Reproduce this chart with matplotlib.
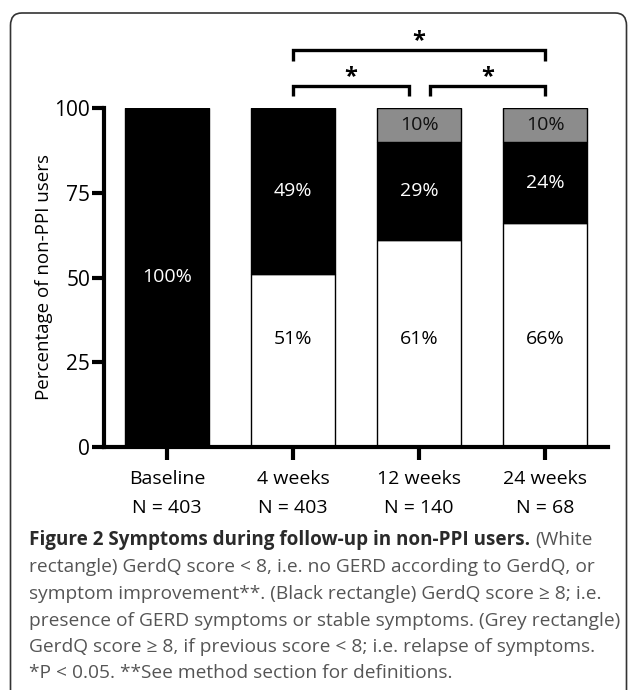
import numpy as np
import matplotlib.pyplot as plt
from matplotlib.patches import FancyBboxPatch

plt.rcParams['font.family'] = ['Open Sans', 'DejaVu Sans']

groups = ['Baseline', '4 weeks', '12 weeks', '24 weeks']
n_users = [403, 403, 140, 68]
white = [0, 51, 61, 66]     # GerdQ < 8
black = [100, 49, 29, 24]   # GerdQ >= 8
grey = [0, 0, 10, 10]       # relapse
# significance brackets (group index pairs)
brackets = [(1, 3), (1, 2), (2, 3)]

W, H = 628, 690
fig = plt.figure(figsize=(W / 100, H / 100), dpi=100)

# rounded frame
frame = FancyBboxPatch((10.5 / W, -0.05), 616 / W, 1 - 13 / H + 0.05,
                       boxstyle="round,pad=0,rounding_size=0.018",
                       transform=fig.transFigure, fill=False,
                       ec='#333333', lw=1.2)
fig.patches.append(frame)

ax = fig.add_axes([104 / W, 1 - 447 / H, 504 / W, 339 / H])
x = np.arange(len(groups))
bw = 0.667
ax.bar(x, white, bw, color='white', edgecolor='black', lw=1)
ax.bar(x, black, bw, bottom=white, color='black', edgecolor='black', lw=1)
b3 = np.array(white) + np.array(black)
ax.bar(x, grey, bw, bottom=b3, color='#8c8c8c', edgecolor='black', lw=1)

fs = 14
for i in range(len(groups)):
    if white[i]:
        ax.text(i, 32, f'{white[i]}%', ha='center', va='center', fontsize=fs, color='black')
    if black[i]:
        ax.text(i, white[i] + black[i] / 2, f'{black[i]}%', ha='center', va='center',
                fontsize=fs, color='white')
    if grey[i]:
        ax.text(i, b3[i] + grey[i] / 2, f'{grey[i]}%', ha='center', va='center',
                fontsize=fs, color='#111111')

ax.set_xlim(-0.5, 3.5)
ax.set_ylim(0, 100)
ax.set_yticks([0, 25, 50, 75, 100])
ax.set_xticks(x)
ax.set_xticklabels([f'{g}\nN = {n}' for g, n in zip(groups, n_users)], fontsize=fs,
                   linespacing=1.8)
ax.tick_params(axis='y', labelsize=15, width=3, length=9, pad=1)
ax.tick_params(axis='x', width=3, length=9, pad=7.5)
for s in ['top', 'right']:
    ax.spines[s].set_visible(False)
for s in ['left', 'bottom']:
    ax.spines[s].set_linewidth(3)
ax.set_ylabel('Percentage of non-PPI users', fontsize=13.5)
ax.yaxis.set_label_coords(-0.101, 0.5)

# significance brackets
levels = {(1, 3): 117, (1, 2): 106.5, (2, 3): 106.5}
for a, b in brackets:
    y = levels[(a, b)]
    xa, xb = a, b
    if (a, b) == (1, 2):
        xb = b - 0.08
    if (a, b) == (2, 3):
        xa = a + 0.09
    ax.plot([xa, xa, xb, xb], [y - 3, y, y, y - 3], color='black', lw=2.4,
            clip_on=False, solid_joinstyle='miter', solid_capstyle='butt')
    ax.text((xa + xb) / 2, y - 0.8, '*', ha='center', va='bottom', fontsize=17,
            fontweight='bold', clip_on=False)

# caption
cx = 29 / W
cfs = 13.8
t1 = fig.text(cx, 1 - 540 / H, 'Figure 2 Symptoms during follow-up in non-PPI users.',
              fontsize=13.6, fontweight='bold', color='#2a2a2a', va='center')
fig.canvas.draw()
bb = t1.get_window_extent()
fig.text(bb.x1 / W + 5 / W, 1 - 540 / H, '(White', fontsize=cfs, color='#555555', va='center')
lines = [
    'rectangle) GerdQ score < 8, i.e. no GERD according to GerdQ, or',
    'symptom improvement**. (Black rectangle) GerdQ score \u2265 8; i.e.',
    'presence of GERD symptoms or stable symptoms. (Grey rectangle)',
    'GerdQ score \u2265 8, if previous score < 8; i.e. relapse of symptoms.',
    '*P < 0.05. **See method section for definitions.',
]
for k, ln in enumerate(lines):
    fig.text(cx, 1 - (567.5 + 26.5 * k) / H, ln, fontsize=cfs, color='#555555', va='center')

fig.savefig('out.png', dpi=100)
